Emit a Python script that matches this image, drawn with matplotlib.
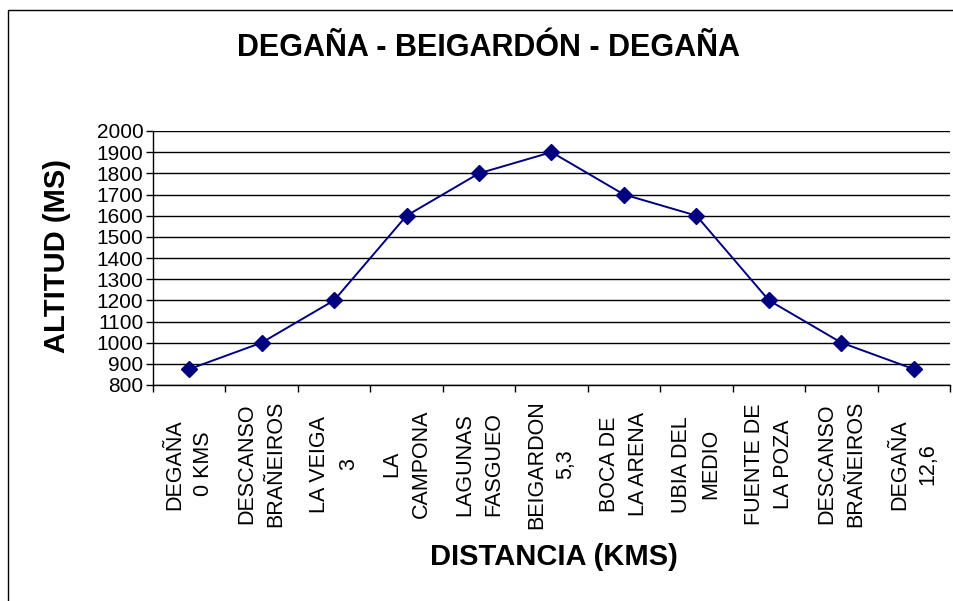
import numpy as np
import matplotlib
matplotlib.use("Agg")
import matplotlib.pyplot as plt
from matplotlib.patches import Rectangle
from matplotlib.ticker import FixedLocator, NullFormatter

# Stops along the route and their altitude (m)
stops = ["DEGAÑA\n0 KMS", "DESCANSO\nBRAÑEIROS", "LA VEIGA\n3", "LA\nCAMPONA",
         "LAGUNAS\nFASGUEO", "BEIGARDON\n5,3", "BOCA DE\nLA ARENA", "UBIA DEL\nMEDIO",
         "FUENTE DE\nLA POZA", "DESCANSO\nBRAÑEIROS", "DEGAÑA\n12,6"]
altitudes = [875, 1000, 1200, 1600, 1800, 1900, 1700, 1600, 1200, 1000, 875]
y_ticks = list(range(800, 2001, 100))

plt.rcParams['font.family'] = ['Liberation Sans', 'DejaVu Sans']

W, H = 954, 601
fig = plt.figure(figsize=(W / 100, H / 100), dpi=100)
ax = fig.add_axes([153 / W, 1 - 385 / H, (950 - 153) / W, (385 - 131) / H])

x = np.arange(len(stops))
ax.plot(x, altitudes, color="#000080", lw=1.4, marker="D", ms=8,
        markerfacecolor="#000080", markeredgecolor="#000080")

ax.set_xlim(-0.5, len(stops) - 0.5)
ax.set_ylim(800, 2000)
ax.set_yticks(y_ticks)
ax.yaxis.grid(True, color="black", lw=1)
ax.set_axisbelow(True)

# labels centred on categories, tick marks on boundaries
ax.set_xticks(x)
ax.set_xticklabels(stops, rotation=90, fontsize=15.5, multialignment="center",
                   linespacing=1.5)
ax.xaxis.set_minor_locator(FixedLocator(np.arange(-0.5, len(stops), 1)))
ax.xaxis.set_minor_formatter(NullFormatter())
ax.tick_params(axis="x", which="major", length=0, pad=57)
ax.tick_params(axis="x", which="minor", length=5, width=1, direction="out", color="black")
for lab in ax.get_xticklabels():
    lab.set_va("center")
ax.tick_params(axis="y", length=5, width=1, direction="out", labelsize=15, pad=2)

for s in ["top", "right"]:
    ax.spines[s].set_visible(False)
for s in ["left", "bottom"]:
    ax.spines[s].set_color("black")
    ax.spines[s].set_linewidth(1)

fig.text(489 / W, 1 - 48 / H, "DEGAÑA - BEIGARDÓN - DEGAÑA", ha="center", va="center",
         fontsize=22, fontweight="bold")
fig.text(57 / W, 1 - 256 / H, "ALTITUD (MS)", ha="center", va="center", rotation=90,
         fontsize=21, fontweight="bold")
fig.text(554 / W, 1 - 557 / H, "DISTANCIA (KMS)", ha="center", va="center",
         fontsize=21, fontweight="bold")

# outer chart frame (only left and top edges visible)
fig.add_artist(Rectangle((8 / W, -0.1), 1.2, 1.1 - 10 / H, transform=fig.transFigure,
                         fill=False, edgecolor="black", lw=1))

fig.savefig("out.png", dpi=100)
